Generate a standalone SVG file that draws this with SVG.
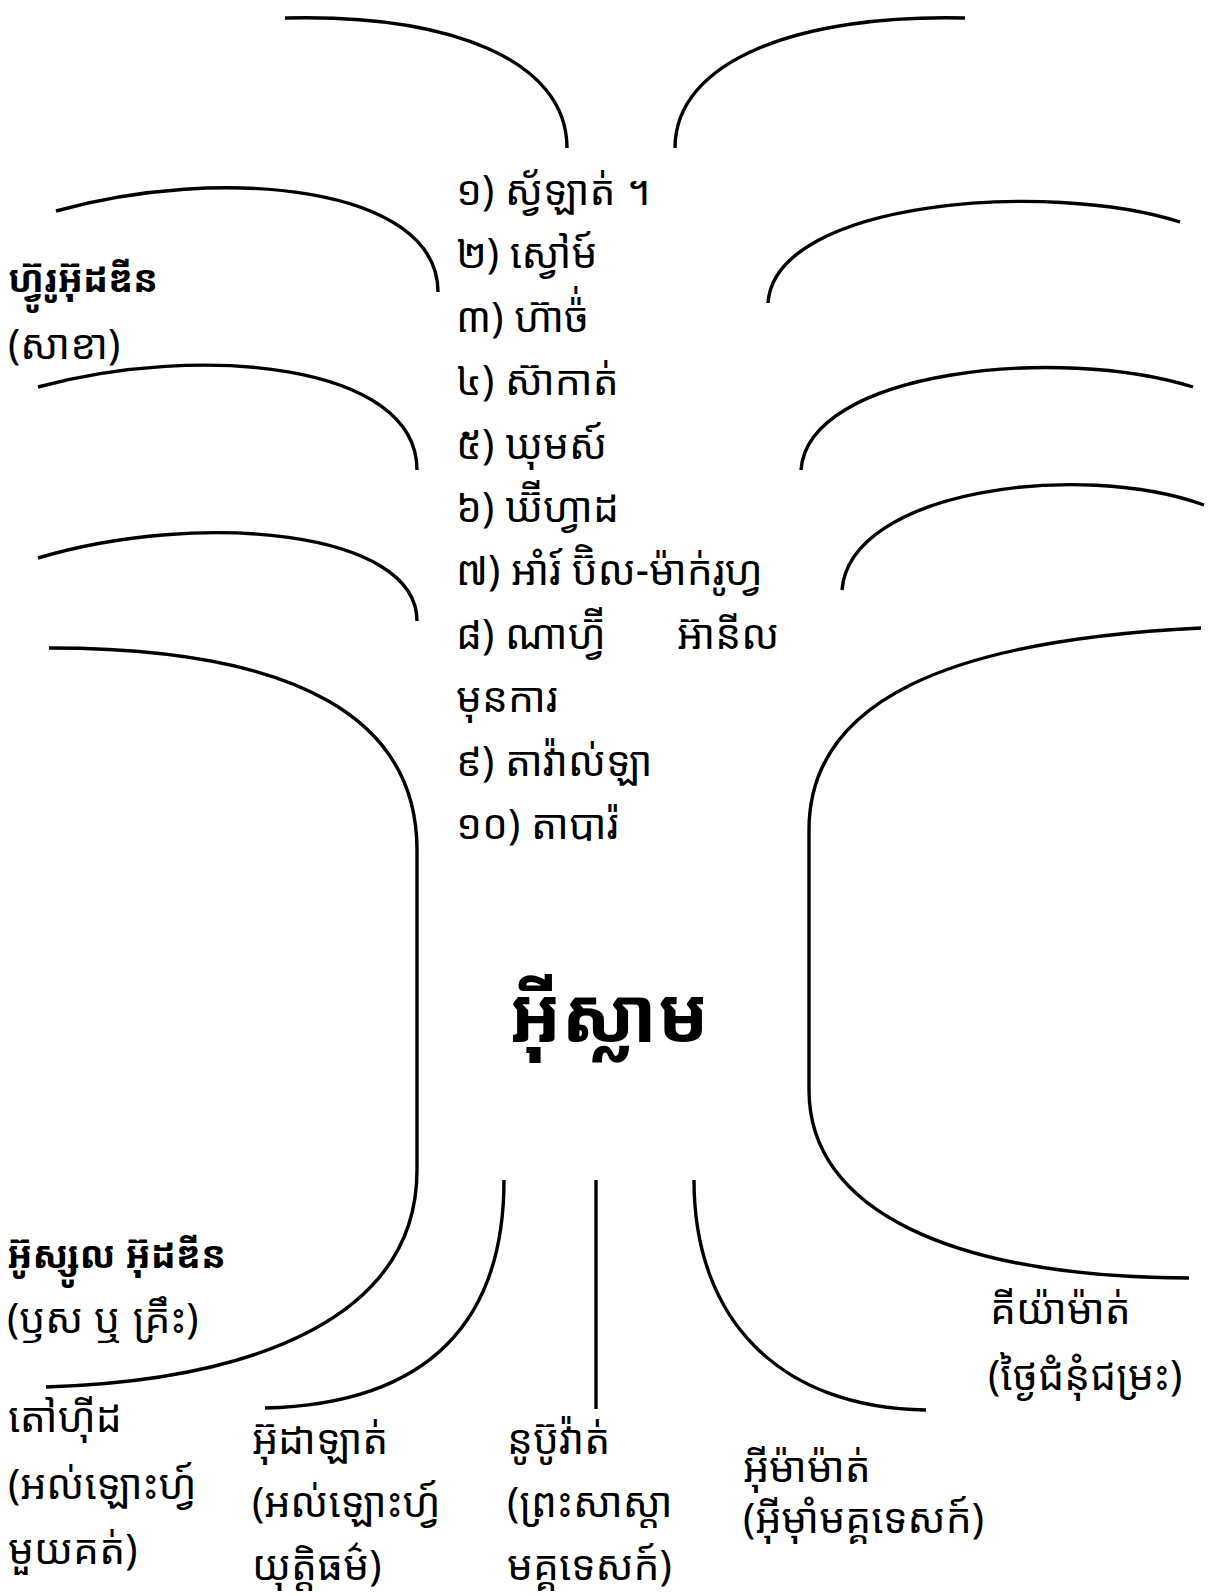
<svg xmlns="http://www.w3.org/2000/svg" width="1215" height="1595" viewBox="0 0 1215 1595">
<style>
.t{font-family:"Noto Sans Khmer","Noto Serif Khmer","Khmer OS","Khmer OS System","Hanuman","Battambang","Khmer UI","Noto Sans",sans-serif;font-size:41px;fill:#000}
.b{font-weight:bold;font-size:37px}
.title{font-weight:bold;font-size:76px}
.c{fill:none;stroke:#000;stroke-width:3.4;stroke-linecap:butt}
</style>
<rect width="1215" height="1595" fill="#fff"/>
<g id="connectors">
<path class="c" d="M285,18 C450,14 567,60 567,148"/>
<path class="c" d="M965,18 C800,14 675,60 675,148"/>
<path class="c" d="M56,211 C220,165 438,185 438,292"/>
<path class="c" d="M38,387 C200,343 417,363 417,470"/>
<path class="c" d="M38,558 C200,510 417,530 417,621"/>
<path class="c" d="M49,648 C300,648 417,720 417,850 L417,1170 C417,1315 260,1380 46,1387"/>
<path class="c" d="M768,303 C775,200 1050,180 1180,222"/>
<path class="c" d="M801,470 C808,370 1060,345 1193,387"/>
<path class="c" d="M842,590 C850,490 1080,460 1204,505"/>
<path class="c" d="M1201,628 C950,640 809,700 809,830 L809,1090 C809,1210 950,1277 1189,1278"/>
<path class="c" d="M504,1180 C504,1320 430,1404 265,1408"/>
<path class="c" d="M596,1180 L596,1409"/>
<path class="c" d="M694,1180 C694,1320 780,1408 926,1410"/>
</g>
<g id="branches-list">
<text class="t" x="456" y="205">១) ស្វ័ឡាត់ ។</text>
<text class="t" x="456" y="268">២) ស្វៅម៍</text>
<text class="t" x="456" y="332">៣) ហ៊ាច៉់</text>
<text class="t" x="456" y="395">៤) ស៊ាកាត់</text>
<text class="t" x="456" y="459">៥) ឃុមស៍</text>
<text class="t" x="456" y="522">៦) ឃ៊ីហ្វាដ</text>
<text class="t" x="456" y="585">៧) អាំរ៍ ប៊ិល-ម៉ាក់រូហ្វ</text>
<text class="t" x="456" y="649">៨) ណាហ្វ៊ី<tspan x="677">អ៊ានីល</tspan></text>
<text class="t" x="456" y="712">មុនការ</text>
<text class="t" x="456" y="776">៩) តាវ៉ាល់ឡា</text>
<text class="t" x="456" y="839">១០) តាបារ៉</text>
</g>
<g id="furu">
<text class="t b" x="8" y="292">ហ្វ៊ូរូអ៊ុដឌីន</text>
<text class="t" x="8" y="359">(សាខា)</text>
</g>
<g id="islam">
<text class="t title" x="509" y="1042">អ៊ីស្លាម</text>
</g>
<g id="usul">
<text class="t b" x="7" y="1268">អ៊ូស្សូល អ៊ុដឌីន</text>
<text class="t" x="7" y="1333">(ឫស ឬ គ្រឹះ)</text>
</g>
<g id="tawhid">
<text class="t" x="8" y="1432">តៅហ៊ីដ</text>
<text class="t" x="8" y="1499">(អល់ឡោះហ្វ៍</text>
<text class="t" x="8" y="1564">មួយគត់)</text>
</g>
<g id="adl">
<text class="t" x="252" y="1454">អ៊ុដាឡាត់</text>
<text class="t" x="252" y="1517">(អល់ឡោះហ្វ៍</text>
<text class="t" x="252" y="1580">យុត្តិធម៌)</text>
</g>
<g id="nubuwwat">
<text class="t" x="507" y="1454">នូប៊ូវ៉ាត់</text>
<text class="t" x="507" y="1517">(ព្រះសាស្តា</text>
<text class="t" x="507" y="1580">មគ្គទេសក៍)</text>
</g>
<g id="imamat">
<text class="t" x="743" y="1482">អ៊ីម៉ាម៉ាត់</text>
<text class="t" x="743" y="1533">(អ៊ីម៉ាំមគ្គទេសក៍)</text>
</g>
<g id="qiyamat">
<text class="t" x="990" y="1324">គីយ៉ាម៉ាត់</text>
<text class="t" x="988" y="1390">(ថ្ងៃជំនុំជម្រះ)</text>
</g>
</svg>
